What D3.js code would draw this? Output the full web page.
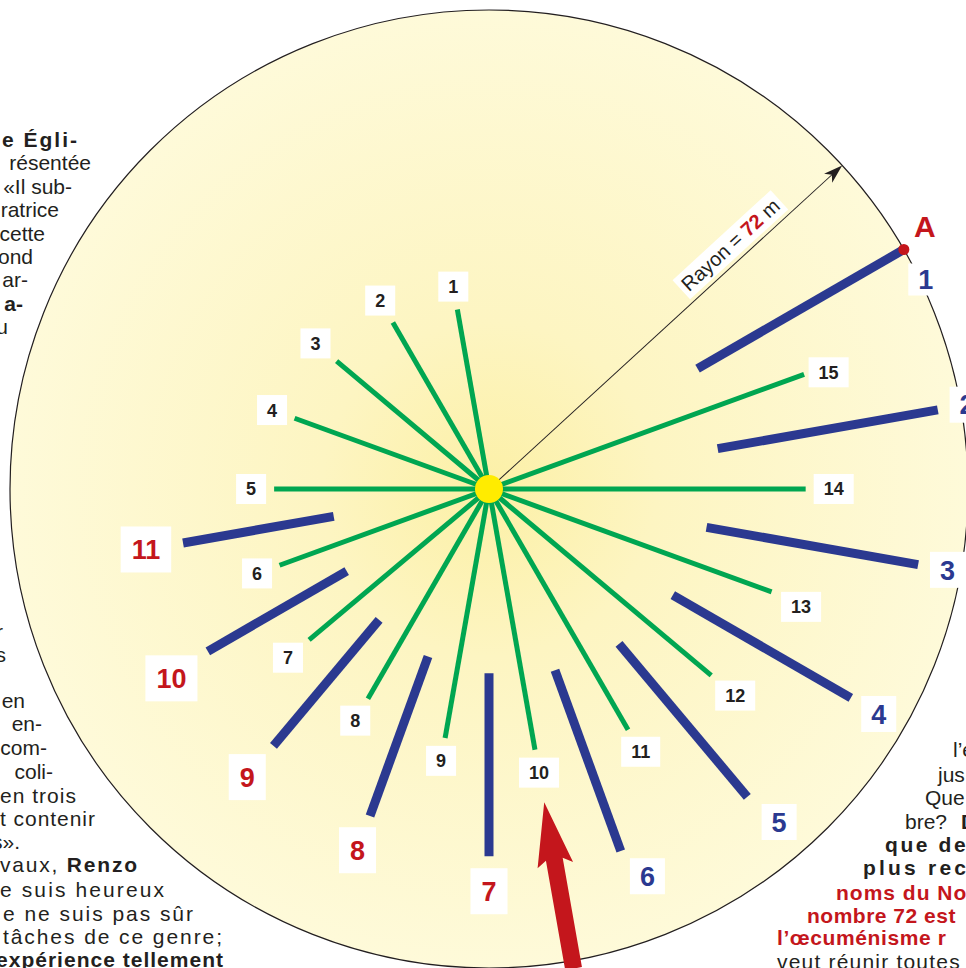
<!DOCTYPE html>
<html>
<head>
<meta charset="utf-8">
<script src="https://cdn.jsdelivr.net/npm/d3@7"></script>
<style>
  body { margin: 0; background: #fff; }
  svg { display: block; font-family: "Liberation Sans", Arial, sans-serif; }
</style>
</head>
<body>
<svg id="chart" width="966" height="968"></svg>
<script>
/* green rays: number, bearing (deg, clockwise from north), length in metres */
const rayIds = d3.range(1, 16);
const rayBearings = [350, 330, 310, 290, 270, 250, 230, 210, 190, 170, 150, 130, 110, 90, 70];
const rayLengths = [27.4, 28.9, 29.9, 31.1, 32.3, 33.5, 35.3, 36.4, 38.0, 39.8, 41.8, 43.6, 45.2, 47.6, 50.4];

/* thick bars: number, bearing, inner and outer distance (m), label group */
const barIds = d3.range(1, 12);
const barBearings = [60, 80, 100, 120, 140, 160, 180, 200, 220, 240, 260];
const barInner = [36.2, 34.9, 33.2, 31.9, 30.4, 29.0, 27.7, 26.8, 25.7, 24.7, 23.7];
const barOuter = [72.0, 68.5, 65.5, 62.8, 60.4, 57.9, 55.2, 52.3, 50.4, 48.8, 46.7];
const barGroups = ["blue", "blue", "blue", "blue", "blue", "blue", "red", "red", "red", "red", "red"];

const radiusM = 72;          // Rayon = 72 m
const radiusBearing = 47.5;
const arrowRay = 10;         // red arrow points in along ray 10
const arrowSpan = [73.2, 47.8];
const pointName = "A";

/* text around the figure: [text, right x, baseline, left x (justify)] */
const leftLines = [
  ["*e Égli-*", 77, 147, 2],
  ["résentée", 91, 170],
  ["«Il sub-", 72, 194],
  ["ratrice", 59, 217],
  ["cette", 45, 241],
  ["ond", 33, 264],
  ["ar-", 28, 287],
  ["*a-*", 23, 311],
  ["u", 8, 334],
  ["r", 3, 639],
  ["s", 6, 662],
  ["en", 25, 708],
  ["en-", 42, 731],
  ["com-", 47, 755],
  ["coli-", 53, 779],
  ["en trois", 76, 803, 0],
  ["t contenir", 95, 826, 0],
  ["s».", 20, 849],
  ["vaux, *Renzo*", 137, 872, 0],
  ["e suis heureux", 164, 897, 0],
  ["e ne suis pas sûr", 193, 921, 3],
  ["tâches de ce genre;", 222, 944, 3],
  ["*expérience tellement*", 223, 967, -4]
];
/* [text, left x, baseline, letter spacing, colour key] */
const rightLines = [
  ["l’é", 953, 757, 0, "ink"],
  ["jus", 938, 782, 0, "ink"],
  ["Que", 925, 805, 0, "ink"],
  ["bre?", 905, 829, 0, "ink"],
  ["*D*", 961, 829, 0, "ink"],
  ["*que de*", 885, 852, 2.6, "ink"],
  ["*plus rec*", 863, 875, 3.2, "ink"],
  ["*noms du No*", 836, 900, 1, "red"],
  ["*nombre 72 est*", 807, 923, 0.5, "red"],
  ["*l’œcuménisme r*", 777, 945, 0.6, "red"],
  ["veut réunir toutes", 777, 969, 1.2, "ink"]
];

const colors = { green: "#00a651", blue: "#2b3990", red: "#c4161c", ink: "#231f20", sun: "#ffec00" };

const svg = d3.select("#chart");
const cx = 489, cy = 489, R = 479;
const rad = d3.scaleLinear().domain([0, radiusM]).range([0, R]);
const P = (deg, m) => d3.pointRadial(deg * Math.PI / 180, rad(m));

/* background disc */
const defs = svg.append("defs");
const grad = defs.append("radialGradient").attr("id", "disc");
grad.append("stop").attr("offset", "0%").attr("stop-color", "#fcf0a6");
grad.append("stop").attr("offset", "35%").attr("stop-color", "#fdf5c2");
grad.append("stop").attr("offset", "100%").attr("stop-color", "#fefad9");

const g = svg.append("g").attr("transform", `translate(${cx},${cy})`);
g.append("circle").attr("r", R).attr("fill", "url(#disc)")
  .attr("stroke", colors.ink).attr("stroke-width", 1.2);

/* green rays */
const rays = rayIds.map((id, i) => ({ id, a: rayBearings[i], len: rayLengths[i] }));
g.selectAll("line.ray").data(rays).join("line")
  .attr("class", "ray")
  .attr("x1", 0).attr("y1", 0)
  .attr("x2", d => P(d.a, d.len)[0]).attr("y2", d => P(d.a, d.len)[1])
  .attr("stroke", colors.green).attr("stroke-width", 5);

/* thick bars */
const bars = barIds.map((id, i) => ({ id, a: barBearings[i], r0: barInner[i], r1: barOuter[i], grp: barGroups[i] }));
g.selectAll("line.bar").data(bars).join("line")
  .attr("class", "bar")
  .attr("x1", d => P(d.a, d.r0)[0]).attr("y1", d => P(d.a, d.r0)[1])
  .attr("x2", d => P(d.a, d.r1)[0]).attr("y2", d => P(d.a, d.r1)[1])
  .attr("stroke", colors.blue).attr("stroke-width", 9);

/* radius arrow */
const rg = g.append("g").attr("transform", `rotate(${radiusBearing - 90})`);
const L = rad(radiusM);
rg.append("line").attr("x1", 0).attr("y1", 0).attr("x2", L - 12).attr("y2", 0)
  .attr("stroke", colors.ink).attr("stroke-width", 1);
rg.append("path").attr("d", `M${L},0 L${L - 19},-6 L${L - 14},0 L${L - 19},6 Z`).attr("fill", colors.ink);
const rlab = rg.append("g").attr("transform", `translate(${L * 0.716},-17)`);
const rbox = rlab.append("rect").attr("fill", "#fff");
const rtxt = rlab.append("text").attr("text-anchor", "middle").attr("dy", "0.35em")
  .attr("font-size", 20).attr("fill", colors.ink);
rtxt.append("tspan").text("Rayon = ");
rtxt.append("tspan").attr("font-weight", "bold").attr("fill", colors.red).text(radiusM);
rtxt.append("tspan").text(" m");
const rw = rtxt.node().getComputedTextLength() + 8;
rbox.attr("x", -rw / 2).attr("y", -13).attr("width", rw).attr("height", 26);

/* sun in the centre */
g.append("circle").attr("r", 14).attr("fill", colors.sun);

/* boxed labels */
function boxLabel(x0, y0, deg, txt, o, nudge) {
  const gl = g.append("g");
  const rect = gl.append("rect").attr("fill", "#fff");
  const t = gl.append("text").attr("text-anchor", "middle").attr("dy", "0.36em")
    .attr("font-size", o.size).attr("font-weight", "bold").attr("fill", o.color).text(txt);
  const w = t.node().getComputedTextLength() + 2 * o.pad, h = o.h;
  rect.attr("x", -w / 2).attr("y", -h / 2).attr("width", w).attr("height", h);
  let px = x0, py = y0;
  if (deg != null) {
    const ux = Math.sin(deg * Math.PI / 180), uy = -Math.cos(deg * Math.PI / 180);
    const d = Math.min(Math.abs(ux) > 1e-6 ? w / 2 / Math.abs(ux) : Infinity,
                       Math.abs(uy) > 1e-6 ? h / 2 / Math.abs(uy) : Infinity) + o.gap;
    px += ux * d; py += uy * d;
  }
  if (nudge) { px += nudge[0]; py += nudge[1]; }
  gl.attr("transform", `translate(${px},${py})`);
}

const greenStyle = { size: 18, pad: 10, h: 30, gap: 8, color: colors.ink };
const rayNudge = { 13: [2, 5], 15: [-3, 8] };
rays.forEach(d => {
  const [x, y] = P(d.a, d.len);
  boxLabel(x, y, d.a, d.id, greenStyle, rayNudge[d.id]);
});

const barStyle = {
  blue: { size: 27, pad: 10, h: 36, gap: 12, color: colors.blue },
  red: { size: 27, pad: 11, h: 46, gap: 12, color: colors.red }
};
const barNudge = { 5: [9, -2], 6: [16, -4], 10: [0, 6] };
bars.forEach((d, i) => {
  const [x, y] = P(d.a, d.r1);
  if (i === 0) boxLabel(x + 22, y + 30, null, d.id, { ...barStyle.blue, h: 32 });
  else boxLabel(x, y, d.a, d.id, barStyle[d.grp], barNudge[d.id]);
});

/* point A at the end of bar 1 */
const [ax, ay] = P(bars[0].a, bars[0].r1);
g.append("circle").attr("cx", ax).attr("cy", ay).attr("r", 5.5).attr("fill", colors.red);
g.append("text").attr("x", ax + 21).attr("y", ay - 13).attr("text-anchor", "middle")
  .attr("font-size", 30).attr("font-weight", "bold").attr("fill", colors.red).text(pointName);

/* red arrow pointing in along the chosen ray */
const ab = rays[arrowRay - 1].a;
const tipX = rad(arrowSpan[1]), tailX = rad(arrowSpan[0]);
g.append("path")
  .attr("transform", `rotate(${ab - 90})`)
  .attr("d", `M${tipX},0 L${tipX + 64},18 L${tipX + 58},8.5 L${tailX},8.5 L${tailX},-8.5 L${tipX + 58},-8.5 L${tipX + 64},-18 Z`)
  .attr("fill", colors.red);

/* surrounding article text */
function richText(sel, str) {
  str.split("*").forEach((seg, i) => {
    if (seg) sel.append("tspan").attr("font-weight", i % 2 ? "bold" : null).text(seg);
  });
  return str.replace(/\*/g, "").length;
}

const txt = svg.append("g").attr("font-size", 21).attr("fill", colors.ink);
leftLines.forEach(([s, xEnd, base, xStart]) => {
  const t = txt.append("text").attr("y", base);
  const n = richText(t, s);
  if (xStart != null) {
    const nat = t.node().getComputedTextLength();
    t.style("letter-spacing", `${(xEnd - xStart - nat) / Math.max(1, n - 1)}px`).attr("x", xStart);
  } else {
    t.attr("x", xEnd).attr("text-anchor", "end");
  }
});
rightLines.forEach(([s, x, base, ls, col]) => {
  const t = txt.append("text").attr("x", x).attr("y", base)
    .attr("fill", colors[col]).style("letter-spacing", `${ls}px`);
  richText(t, s);
});
</script>
</body>
</html>
